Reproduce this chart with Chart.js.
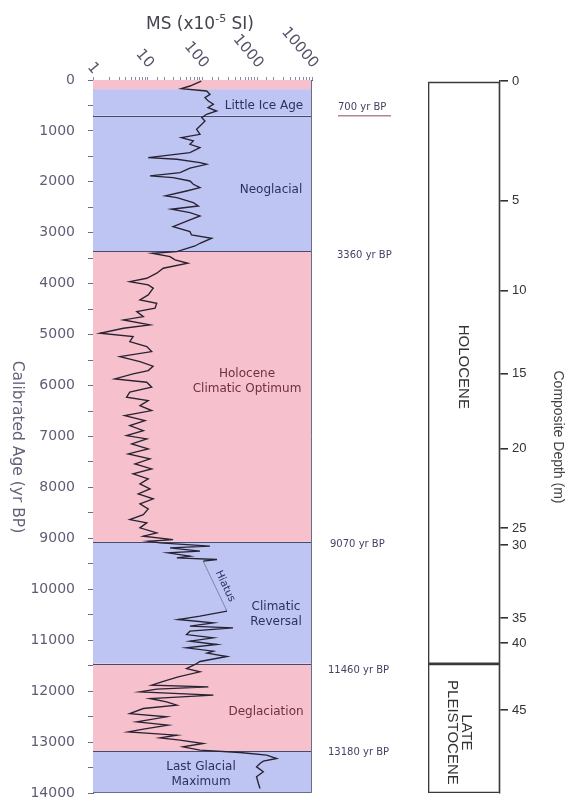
<!DOCTYPE html>
<html>
<head>
<meta charset="utf-8">
<script src="https://cdn.jsdelivr.net/npm/chart.js@4.4.1/dist/chart.umd.min.js"></script>
<style>
  html, body { margin: 0; padding: 0; background: #fff; }
  #wrap { position: relative; width: 566px; height: 798px; }
  #wrap canvas { position: absolute; left: 0; top: 0; }
</style>
</head>
<body>
<div id="wrap">
  <canvas id="msChart" width="566" height="798"></canvas>
  <canvas id="depthChart" width="566" height="798"></canvas>
</div>
<script>
/* ~~~~~~~~~~ DATA ~~~~~~~~~~*/

// MS curve above the hiatus (age in cal yr BP, MS in x10^-5 SI)
const agesUpper = [
  20, 118, 171, 216, 281, 347, 412, 477, 544, 609,
  673, 740, 805, 903, 968, 1066, 1133, 1197, 1262, 1329,
  1427, 1525, 1557, 1623, 1655, 1729, 1820, 1884, 1918, 1983,
  2047, 2113, 2179, 2277, 2310, 2409, 2473, 2538, 2605, 2670,
  2748, 2880, 2978, 3043, 3107, 3206, 3259, 3370, 3402, 3469,
  3533, 3598, 3696, 3794, 3893, 3959, 4024, 4089, 4220, 4319,
  4383, 4482, 4548, 4646, 4711, 4809, 4874, 4972, 5039, 5137,
  5235, 5333, 5432, 5530, 5620, 5706, 5771, 5869, 5934, 6032,
  6130, 6229, 6295, 6393, 6491, 6590, 6688, 6786, 6884, 6982,
  7047, 7146, 7244, 7342, 7440, 7538, 7636, 7735, 7833, 7931,
  8029, 8127, 8225, 8323, 8421, 8533, 8631, 8696, 8794, 8892,
  8958, 9024, 9056, 9089, 9154, 9187, 9252, 9285, 9350, 9383,
  9416, 9448
];
const msUpper = [
  95, 59, 41, 119, 137, 111, 128, 158, 126, 181,
  119, 97, 111, 90, 78, 90, 41, 68, 59, 90,
  59, 10.2, 34, 90, 119, 59, 39, 11, 29, 59,
  68, 90, 51, 21, 34, 68, 84, 27, 59, 90,
  59, 29, 59, 63, 147, 90, 73, 34, 12, 25.5,
  31.5, 54, 19.2, 14.6, 9.6, 4.7, 10.2, 12.6, 10.2, 7.2,
  14.6, 13.6, 6.3, 8.3, 3.6, 11, 3.6, 1.34, 5.4, 4.7,
  9.6, 11.8, 3.1, 7.2, 12.5, 10.2, 5.4, 2.5, 9.6, 11.8,
  4.7, 4.1, 10.2, 7.2, 11.8, 3.8, 8.9, 4.7, 8.3, 4.1,
  9.6, 5.1, 10.2, 4.4, 11, 5.85, 11.8, 5.4, 10.2, 7.2,
  11, 6.7, 12.6, 7.2, 10.2, 8.3, 4.7, 9.6, 7.2, 14.6,
  8.3, 29, 10.2, 16.7, 137, 25.5, 90, 23.5, 59, 34,
  184, 103
];

// MS curve below the hiatus
const agesLower = [
  10430, 10528, 10594, 10659, 10724, 10757, 10822, 10889, 10954, 11018,
  11084, 11150, 11215, 11254, 11320, 11418, 11458, 11556, 11621, 11719,
  11817, 11883, 11916, 11961, 12014, 12079, 12145, 12211, 12276, 12341,
  12440, 12504, 12603, 12668, 12746, 12799, 12864, 12917, 12962, 13028,
  13093, 13159, 13205, 13257, 13323, 13375, 13421, 13486, 13584, 13682,
  13813, 13911
];
const msLower = [
  280, 90, 36, 158, 59, 361, 59, 51, 158, 59,
  184, 51, 158, 121, 280, 90, 78, 51, 90, 36,
  18, 11.8, 128, 14.6, 7.2, 158, 11, 22, 34, 8.3,
  4.7, 22, 6.3, 23.5, 8.3, 4.4, 34, 16.7, 38.8, 103,
  44, 90, 480, 1490, 2260, 1290, 1122, 970, 1290, 970,
  1050, 1122
];

// hiatus connector
const hiatusAges = [9448, 10430];
const hiatusMS = [103, 280];

// climate phases
const phaseStart = [0, 180, 700, 3360, 9070, 11460, 13180];
const phaseEnd = [180, 700, 3360, 9070, 11460, 13180, 14000];
const phaseWarm = [true, false, false, true, false, true, false];
const phaseNames = ['', 'Little Ice Age', 'Neoglacial', 'Holocene\nClimatic Optimum',
  'Climatic\nReversal', 'Deglaciation', 'Last Glacial\nMaximum'];
const boundaryAges = [700, 3360, 9070, 11460, 13180];

// axes
const ageTicksMax = 14000;
const msDecades = [1, 10, 100, 1000, 10000];
const depthLabels = [0, 5, 10, 15, 20, 25, 30, 35, 40, 45];
const depthAges = [0, 2356, 4122, 5752, 7224, 8794, 9128, 10561, 11052, 12367];

// epochs column
const epochNames = ['HOLOCENE', 'LATE\nPLEISTOCENE'];
const epochStart = [0, 11460];
const epochEnd = [11460, 14000];

/* ~~~~~~~~~~ LAYOUT ~~~~~~~~~~*/

const BLUE = '#bec5f2';
const PINK = '#f6c1cc';
const NAVY = '#2e3060';
const MAROON = '#6e2f42';
const FONT = '"DejaVu Sans", sans-serif';

// where the phase names sit, in (MS, age) units
const phaseLabelSpots = [null,
  { ms: 1328, age: 510 }, { ms: 1782, age: 2159 }, { ms: 650, age: 5918 },
  { ms: 2199, age: 10502 }, { ms: 1445, age: 12406 }, { ms: 94, age: 13633 }];
const boundaryLabelX = [338, 337, 330, 328, 328];
const boundaryLabelDy = [-8, 4, 2, 7, 1];

const toPoints = (ages, ms) => ages.map((a, i) => ({ x: ms[i], y: a }));

/* ~~~~~~~~~~ PLUGINS ~~~~~~~~~~*/

const bandPlugin = {
  id: 'bands',
  beforeDatasetsDraw(chart) {
    const { ctx, chartArea: { left, right }, scales: { y } } = chart;
    ctx.save();
    phaseStart.forEach((s, i) => {
      const y0 = y.getPixelForValue(s);
      const y1 = y.getPixelForValue(phaseEnd[i]);
      ctx.fillStyle = phaseWarm[i] ? PINK : BLUE;
      ctx.fillRect(left, y0, right - left, y1 - y0);
    });
    ctx.strokeStyle = '#464a6c';
    ctx.lineWidth = 1;
    boundaryAges.forEach(a => {
      const py = Math.round(y.getPixelForValue(a)) + 0.5;
      ctx.beginPath();
      ctx.moveTo(left, py);
      ctx.lineTo(right, py);
      ctx.stroke();
    });
    ctx.restore();
  }
};

const textPlugin = {
  id: 'texts',
  afterDraw(chart) {
    const { ctx, chartArea: { left, right, top, bottom }, scales: { x, y } } = chart;
    ctx.save();

    // right and bottom frame
    ctx.strokeStyle = '#6a6d86';
    ctx.lineWidth = 1;
    ctx.beginPath();
    ctx.moveTo(right - 0.5, top);
    ctx.lineTo(right - 0.5, bottom - 0.5);
    ctx.lineTo(left, bottom - 0.5);
    ctx.stroke();

    // phase names
    ctx.textAlign = 'center';
    ctx.textBaseline = 'middle';
    ctx.font = '12px ' + FONT;
    phaseNames.forEach((name, i) => {
      if (!name) return;
      const spot = phaseLabelSpots[i];
      const px = x.getPixelForValue(spot.ms);
      const py = y.getPixelForValue(spot.age);
      const lines = name.split('\n');
      ctx.fillStyle = phaseWarm[i] ? MAROON : NAVY;
      lines.forEach((ln, k) => {
        ctx.fillText(ln, px, py + (k - (lines.length - 1) / 2) * 15);
      });
    });

    // boundary ages
    ctx.textAlign = 'left';
    ctx.font = '10px ' + FONT;
    ctx.fillStyle = '#4a3d63';
    boundaryAges.forEach((a, i) => {
      const py = y.getPixelForValue(a) + boundaryLabelDy[i];
      ctx.fillText(a + ' yr BP', boundaryLabelX[i], py);
    });
    const py700 = y.getPixelForValue(boundaryAges[0]);
    ctx.strokeStyle = '#b5809a';
    ctx.lineWidth = 1.5;
    ctx.beginPath();
    ctx.moveTo(boundaryLabelX[0], py700);
    ctx.lineTo(boundaryLabelX[0] + 53, py700);
    ctx.stroke();

    // hiatus label
    const hx = (x.getPixelForValue(hiatusMS[0]) + x.getPixelForValue(hiatusMS[1])) / 2;
    const hy = (y.getPixelForValue(hiatusAges[0]) + y.getPixelForValue(hiatusAges[1])) / 2;
    ctx.save();
    ctx.translate(hx + 10, hy);
    ctx.rotate(65 * Math.PI / 180);
    ctx.textAlign = 'center';
    ctx.fillStyle = NAVY;
    ctx.font = '10.5px ' + FONT;
    ctx.fillText('Hiatus', 0, 0);
    ctx.restore();

    // top decade labels, rotated
    ctx.fillStyle = '#55556a';
    ctx.font = '15px ' + FONT;
    msDecades.forEach(v => {
      const px = x.getPixelForValue(v);
      ctx.save();
      ctx.translate(px + 3, v === 1 ? 72 : 66);
      ctx.rotate(50 * Math.PI / 180);
      ctx.textAlign = 'right';
      ctx.fillText(String(v), 0, 0);
      ctx.restore();
    });

    // MS title with superscript
    ctx.fillStyle = '#444450';
    const big = '17px ' + FONT, small = '11px ' + FONT;
    ctx.font = big;
    const w1 = ctx.measureText('MS (x10').width;
    const w3 = ctx.measureText(' SI)').width;
    ctx.font = small;
    const w2 = ctx.measureText('-5').width;
    const tx = 200 - (w1 + w2 + w3) / 2;
    ctx.textAlign = 'left';
    ctx.textBaseline = 'alphabetic';
    ctx.font = big;
    ctx.fillText('MS (x10', tx, 29);
    ctx.font = small;
    ctx.fillText('-5', tx + w1, 22);
    ctx.font = big;
    ctx.fillText(' SI)', tx + w1 + w2, 29);

    // age axis title, reading downward
    ctx.save();
    ctx.translate(17, 447);
    ctx.rotate(Math.PI / 2);
    ctx.textAlign = 'center';
    ctx.textBaseline = 'middle';
    ctx.fillStyle = '#64627a';
    ctx.font = '15.5px ' + FONT;
    ctx.fillText('Calibrated Age (yr BP)', 0, 0);
    ctx.restore();

    ctx.restore();
  }
};

const epochPlugin = {
  id: 'epochLabels',
  afterDatasetsDraw(chart) {
    const ctx = chart.ctx;
    const shift = [-6, 4];
    const lineOffsets = [[1], [-2, 12]];
    ctx.save();
    ctx.fillStyle = '#333';
    ctx.font = '15px "Liberation Sans", Arial, sans-serif';
    ctx.textAlign = 'center';
    ctx.textBaseline = 'middle';
    epochNames.forEach((name, i) => {
      const bar = chart.getDatasetMeta(i).data[0];
      const lines = name.split('\n');
      ctx.save();
      ctx.translate(bar.x, (bar.y + bar.base) / 2 + shift[i]);
      ctx.rotate(Math.PI / 2);
      lines.forEach((ln, k) => ctx.fillText(ln, 0, lineOffsets[lines.length - 1][k]));
      ctx.restore();
    });
    ctx.restore();
  }
};

/* ~~~~~~~~~~ CHARTS ~~~~~~~~~~*/

Chart.defaults.font.family = FONT;

const curveStyle = {
  showLine: true,
  borderColor: '#282232',
  borderWidth: 1.35,
  pointRadius: 0,
  tension: 0
};

new Chart(document.getElementById('msChart'), {
  type: 'scatter',
  data: {
    datasets: [
      { label: 'MS', data: toPoints(agesUpper, msUpper), ...curveStyle },
      { label: 'MS lower', data: toPoints(agesLower, msLower), ...curveStyle },
      { label: 'Hiatus', data: toPoints(hiatusAges, hiatusMS), showLine: true,
        borderColor: '#70739a', borderWidth: 0.8, pointRadius: 0 }
    ]
  },
  options: {
    responsive: false,
    animation: false,
    layout: { padding: { left: 0, top: 0, right: 254, bottom: 5 } },
    plugins: { legend: { display: false }, tooltip: { enabled: false } },
    scales: {
      x: {
        type: 'logarithmic',
        position: 'top',
        min: 1,
        max: 10000,
        ticks: { display: false },
        grid: { drawOnChartArea: false, tickLength: 3, color: '#8a8aa0' },
        border: { color: '#55596e' },
        afterFit: s => { s.height = 80; s.paddingLeft = 0; s.paddingRight = 0; }
      },
      y: {
        min: 0,
        max: ageTicksMax,
        reverse: true,
        ticks: {
          stepSize: 500,
          autoSkip: false,
          padding: 13,
          color: '#5f5d75',
          font: { size: 14 },
          callback: v => (v % 1000 === 0 ? v : '')
        },
        grid: { drawOnChartArea: false, tickLength: 5, color: '#6a6a80' },
        border: { color: '#55596e' },
        afterFit: s => { s.width = 93; s.paddingTop = 0; s.paddingBottom = 0; }
      }
    }
  },
  plugins: [bandPlugin, textPlugin]
});

new Chart(document.getElementById('depthChart'), {
  type: 'bar',
  data: {
    labels: ['epoch'],
    datasets: epochNames.map((n, i) => ({
      label: n,
      data: [[epochStart[i], epochEnd[i]]],
      backgroundColor: 'rgba(255,255,255,0)',
      borderColor: '#3a3a3a',
      borderWidth: 1,
      borderSkipped: false,
      grouped: false,
      barPercentage: 1,
      categoryPercentage: 1
    }))
  },
  options: {
    responsive: false,
    animation: false,
    layout: { padding: { left: 428, top: 81, right: 0, bottom: 5 } },
    plugins: { legend: { display: false }, tooltip: { enabled: false } },
    scales: {
      x: { display: false },
      y: {
        position: 'right',
        min: 0,
        max: ageTicksMax,
        reverse: true,
        afterBuildTicks: s => { s.ticks = depthAges.map(v => ({ value: v })); },
        ticks: {
          autoSkip: false,
          padding: 4,
          color: '#333',
          font: { family: '"Liberation Sans", Arial, sans-serif', size: 13 },
          callback: (v, i) => depthLabels[i]
        },
        grid: { drawOnChartArea: false, tickLength: 8, color: '#333', lineWidth: 1.6 },
        border: { color: '#333', width: 1.3 },
        title: {
          display: true,
          text: 'Composite Depth (m)',
          color: '#444',
          padding: 0,
          font: { family: '"Liberation Sans", Arial, sans-serif', size: 14 }
        },
        afterFit: s => { s.width = 66; s.paddingTop = 0; s.paddingBottom = 0; }
      }
    }
  },
  plugins: [epochPlugin]
});
</script>
</body>
</html>
